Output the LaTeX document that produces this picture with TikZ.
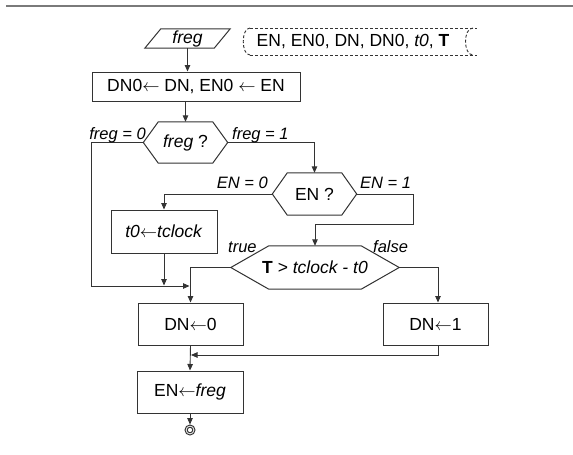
\documentclass[tikz,border=0pt]{standalone}
\usepackage{fontspec}
\setmainfont{Liberation Sans}
\usetikzlibrary{arrows.meta,calc}
\newcommand\hexpath[2]{\draw[boxline] (#1.west) -- ([xshift=#2pt]#1.north west) -- ([xshift=-#2pt]#1.north east) -- (#1.east) -- ([xshift=-#2pt]#1.south east) -- ([xshift=#2pt]#1.south west) -- cycle;}
\newcommand\la{\ensuremath{\leftarrow}}
\begin{document}
\begin{tikzpicture}[x=1pt,y=-1pt,
  line/.style={draw=black!80, line width=0.9pt},
  arr/.style={line, -{Triangle[length=6.5pt,width=5.5pt]}},
  boxline/.style={draw=black!80, line width=1pt},
  txt/.style={inner sep=0pt, font=\fontsize{17.5}{20}\selectfont},
  box/.style={txt, boxline},
  lbl/.style={inner sep=0pt, font=\fontsize{16.5}{19}\selectfont\itshape},
]
\useasboundingbox (0,0) rectangle (573,455);
\draw[black!52, line width=2.5pt] (6,6) -- (573,6);

% input parallelogram
\node[txt, minimum width=69, minimum height=19] (in) at (187.5,38.5) {\itshape freg};
\draw[boxline] ($(in.north west)+(8,0)$) -- ($(in.north east)+(8,0)$) -- ($(in.south east)+(-8,0)$) -- ($(in.south west)+(-8,0)$) -- cycle;

% variables (dashed storage)
\node[txt] (vars) at (353,42) {EN, EN0, DN, DN0, \textit{t0}, \textbf{T}};
\draw[line, dash pattern=on 3pt off 2pt] (250,28) -- (477,28);
\draw[line, dash pattern=on 3pt off 2pt] (250,55) -- (477,55);
\draw[line, dash pattern=on 3pt off 2pt] (250,28) .. controls (241,28) and (241,55) .. (250,55);
\draw[line, dash pattern=on 3pt off 2pt] (473,28) .. controls (463,28) and (463,55) .. (473,55);

% boxes
\node[box, minimum width=208, minimum height=29] (b1) at (196,86.5) {DN0\la{} DN, EN0 \la{} EN};
\node[txt, minimum width=84, minimum height=41] (fq) at (185.5,142.5) {\textit{freg} ?};
\hexpath{fq}{15}
\node[txt, minimum width=84, minimum height=42] (en) at (314.5,194) {EN ?};
\hexpath{en}{15}
\node[box, minimum width=106, minimum height=43] (t0) at (164,231.5) {\textit{t0}\la\textit{tclock}};
\node[txt, minimum width=168, minimum height=43] (tt) at (315,267.5) {\textbf{T} > \textit{tclock - t0}};
\hexpath{tt}{38}
\node[box, minimum width=105, minimum height=42] (d0) at (190.5,324) {DN\la0};
\node[box, minimum width=105, minimum height=42] (d1) at (435.5,324) {DN\la1};
\node[box, minimum width=106, minimum height=42] (e) at (190,392) {EN\la\textit{freg}};
\node[circle, boxline, minimum size=10, inner sep=0pt] (end) at (190,430) {};
\draw[boxline] (end.center) circle[radius=2.8];

% helper coordinates
\coordinate (lrail) at (91,0);
\coordinate (merge) at (190,286);
\coordinate (rrail) at (413,224);
\coordinate (join) at (0,355);

% connectors
\draw[arr] (in.south) -- (in.south |- b1.north);
\draw[arr] (fq.north |- b1.south) -- (fq.north);
\draw[arr] (fq.west) -- (fq.west -| lrail) -- (lrail |- merge) -- ([xshift=-0.5pt]merge);
\draw[arr] (fq.east) -| (en.north);
\draw[arr] (en.west) -| (t0.north);
\draw[arr] (en.east) -| (rrail) -| (tt.north);
\draw[arr] (t0.south) -- ([yshift=0.5pt]t0.south |- merge);
\draw[arr] (tt.west) -| (d0.north);
\draw[arr] (tt.east) -| ([xshift=2.5pt]d1.north);
\draw[arr] (d0.south) -- (e.north);
\draw[arr] ([xshift=2.5pt]d1.south) -- ([xshift=2.5pt]d1.south |- join) -- ([xshift=0.5pt]d0.south |- join);
\draw[arr] (e.south) -- (end.north);

% labels
\node[lbl, anchor=base east] (l1) at (146,139) {freg = 0};
\node[lbl, anchor=base west] (l2) at (232,139) {freg = 1};
\node[lbl, anchor=base east] (l3) at (268,188.5) {EN = 0};
\node[lbl, anchor=base west] (l4) at (360,188.5) {EN = 1};
\node[lbl, anchor=base west] (l5) at (228,252) {true};
\node[lbl, anchor=base west] (l6) at (373,252) {false};
\end{tikzpicture}
\end{document}
